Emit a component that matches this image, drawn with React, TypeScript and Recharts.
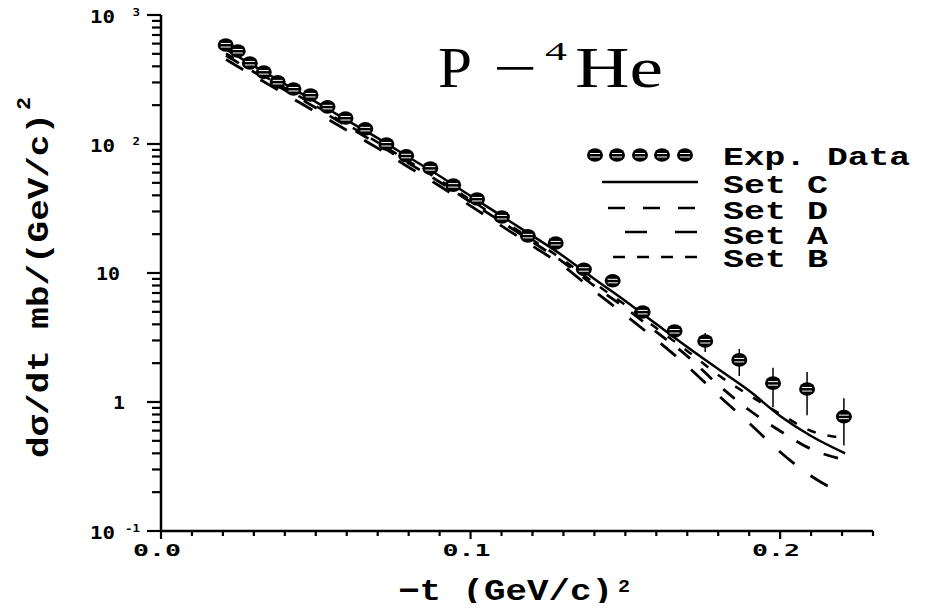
import { ComposedChart, Line, Scatter, ErrorBar, XAxis, YAxis } from "recharts"

// model curves, -t in (GeV/c)^2
const tCurve = [0.021, 0.03, 0.04, 0.05, 0.06, 0.07, 0.08, 0.09, 0.1, 0.11, 0.12, 0.13, 0.14, 0.15, 0.16, 0.17, 0.18, 0.19, 0.2, 0.21, 0.221]
const setC = [540, 403, 292, 212, 153, 111, 79, 56.5, 39.5, 27.7, 19.4, 13.5, 8.98, 6.07, 4.02, 2.67, 1.8, 1.22, 0.78, 0.545, 0.4]
const setD = [485, 362, 262, 191, 138, 99.8, 71, 50.8, 35.5, 24.9, 17.4, 12.1, 7.93, 5.36, 3.49, 2.27, 1.36, 0.867, 0.596, 0.432, 0.355]
const setA = [452, 337, 244, 177, 128, 92.9, 66.1, 47.3, 33.1, 23.2, 16.2, 11.3, 7.25, 4.72, 3.03, 1.9, 1.13, 0.687, 0.41, 0.267, 0.19]
const setB = [503, 375, 272, 197, 142, 103, 73.5, 52.6, 36.8, 25.8, 18.1, 12.6, 8.36, 5.65, 3.74, 2.49, 1.62, 1.13, 0.81, 0.596, 0.526]

// experimental points
const tExp = [0.0209, 0.0248, 0.0287, 0.0332, 0.0377, 0.0428, 0.0483, 0.0538, 0.0596, 0.066, 0.0728, 0.0792, 0.087, 0.0944, 0.1021, 0.1101, 0.1185, 0.1275, 0.1366, 0.1459, 0.1556, 0.1659, 0.1758, 0.1868, 0.1977, 0.2087, 0.2206]
const vExp = [585, 526, 425, 361, 303, 267, 240, 194, 159, 131, 100, 81, 65, 48, 37.5, 27.2, 19.4, 17.1, 10.7, 8.7, 4.99, 3.55, 2.97, 2.12, 1.4, 1.26, 0.77]
const errLo = [0, 0, 0, 0, 0, 0, 0, 0, 0, 0, 0, 0, 0, 0, 0, 0, 0, 0, 0, 0, 0, 0.36, 0.53, 0.53, 0.49, 0.47, 0.31]
const errHi = [0, 0, 0, 0, 0, 0, 0, 0, 0, 0, 0, 0, 0, 0, 0, 0, 0, 0, 0, 0, 0, 0.4, 0.46, 0.46, 0.44, 0.45, 0.3]

const xTicks = [0, 0.01, 0.02, 0.03, 0.04, 0.05, 0.06, 0.07, 0.08, 0.09, 0.1, 0.11, 0.12, 0.13, 0.14, 0.15, 0.16, 0.17, 0.18, 0.19, 0.2, 0.21, 0.22, 0.23]
const xMajor = [0, 0.1, 0.2]
const yTicks = [
  0.1, 0.2, 0.3, 0.4, 0.5, 0.6, 0.7, 0.8, 0.9,
  1, 2, 3, 4, 5, 6, 7, 8, 9,
  10, 20, 30, 40, 50, 60, 70, 80, 90,
  100, 200, 300, 400, 500, 600, 700, 800, 900,
  1000,
]
const yMajor = [0.1, 1, 10, 100, 1000]
const yBase = ["10", "1", "10", "10", "10"]
const yExp = ["-1", "", "", "2", "3"]

const curveData = tCurve.map((t, i) => ({ t, C: setC[i], D: setD[i], A: setA[i], B: setB[i] }))
const expData = tExp.map((t, i) => ({ t, v: vExp[i], err: [errLo[i], errHi[i]] }))

const mono = "'DejaVu Sans Mono', monospace"
const courier = "'Liberation Mono', monospace"

function Marker({ cx, cy }: { cx: number; cy: number }) {
  return (
    <g>
      <ellipse cx={cx} cy={cy} rx={8} ry={6.8} fill="#000" />
      <line x1={cx - 5} x2={cx + 5} y1={cy - 1.5} y2={cy - 1.5} stroke="#fff" strokeWidth={1} />
      <line x1={cx - 5} x2={cx + 5} y1={cy + 2} y2={cy + 2} stroke="#fff" strokeWidth={1} />
    </g>
  )
}

function XTick(props: any) {
  const { x, y, payload } = props
  const v = payload.value
  const major = xMajor.some((m) => Math.abs(m - v) < 1e-6)
  return (
    <g>
      <line x1={x} x2={x} y1={y} y2={y + (major ? 8 : 5)} stroke="#000" strokeWidth={2.2} />
      {major && (
        <text x={x - 4} y={y + 25} textAnchor="middle" fontFamily={mono} fontWeight="bold" fontSize={16} textLength={48} lengthAdjust="spacingAndGlyphs" fill="#000">
          {v.toFixed(1)}
        </text>
      )}
    </g>
  )
}

function YTick(props: any) {
  const { x, y, payload } = props
  const v = payload.value
  const idx = yMajor.findIndex((m) => Math.abs(m - v) < m * 1e-6)
  const major = idx >= 0
  let label = null
  if (major) {
    const base = yBase[idx]
    const sup = yExp[idx]
    if (sup) {
      label = (
        <g fontFamily={mono} fontWeight="bold" fill="#000">
          <text x={x - 46} y={y + 8} textAnchor="end" fontSize={17} textLength={25} lengthAdjust="spacingAndGlyphs">{base}</text>
          <text x={x - 21} y={y + 1} textAnchor="end" fontSize={11} textLength={sup.length * 7.5} lengthAdjust="spacingAndGlyphs">{sup}</text>
        </g>
      )
    } else {
      label = (
        <text x={base === "1" ? x - 36 : x - 41} y={y + 7} textAnchor="end" fontFamily={mono} fontWeight="bold" fontSize={17} textLength={base.length * 12} lengthAdjust="spacingAndGlyphs" fill="#000">
          {base}
        </text>
      )
    }
  }
  return (
    <g>
      <line x1={x} x2={x - (major ? 14 : 9)} y1={y} y2={y} stroke="#000" strokeWidth={2.2} />
      {label}
    </g>
  )
}

const legendRows = [
  { name: "Set C", dash: "", x1: 22, y: 47, ty: 58 },
  { name: "Set D", dash: "17 18", x1: 28, y: 73, ty: 84 },
  { name: "Set A", dash: "22 28", x1: 45, y: 97, ty: 109 },
  { name: "Set B", dash: "12 12", x1: 33, y: 122, ty: 132 },
]

function LegendBox() {
  return (
    <g transform="translate(572, 127)">
      {[15, 37, 60, 82, 105].map((cx) => (
        <Marker key={cx} cx={cx} cy={20} />
      ))}
      <text x={143} y={30} fontFamily={courier} fontWeight="bold" fontSize={26} textLength={187} lengthAdjust="spacingAndGlyphs">Exp. Data</text>
      {legendRows.map((r) => (
        <g key={r.name}>
          <line x1={r.x1} x2={118} y1={r.y} y2={r.y} stroke="#000" strokeWidth={2.6} strokeDasharray={r.dash || undefined} />
          <text x={143} y={r.ty} fontFamily={courier} fontWeight="bold" fontSize={26} textLength={105} lengthAdjust="spacingAndGlyphs">{r.name}</text>
        </g>
      ))}
    </g>
  )
}

export default function App() {
  return (
    <div style={{ position: "relative", width: 914, height: 595 }}>
      <ComposedChart width={914} height={595} data={curveData} margin={{ top: 7, right: 49, left: 0, bottom: 0 }}>
        <XAxis
          type="number"
          dataKey="t"
          domain={[0, 0.23]}
          allowDataOverflow
          ticks={xTicks}
          interval={0}
          tick={XTick}
          tickLine={false}
          tickSize={0}
          tickMargin={0}
          height={72}
          axisLine={{ stroke: "#000", strokeWidth: 2.5 }}
        />
        <YAxis
          scale="log"
          domain={[0.1, 1000]}
          allowDataOverflow
          ticks={yTicks}
          interval={0}
          tick={YTick}
          tickLine={false}
          tickSize={0}
          tickMargin={0}
          width={153}
          axisLine={{ stroke: "#000", strokeWidth: 2.5 }}
        />
        <Line type="monotone" dataKey="A" stroke="#000" strokeWidth={2.8} strokeDasharray="20 20" dot={false} isAnimationActive={false} />
        <Line type="monotone" dataKey="D" stroke="#000" strokeWidth={2.8} strokeDasharray="15 15" dot={false} isAnimationActive={false} />
        <Line type="monotone" dataKey="B" stroke="#000" strokeWidth={2.5} strokeDasharray="9 12" dot={false} isAnimationActive={false} />
        <Line type="monotone" dataKey="C" stroke="#000" strokeWidth={2.5} dot={false} isAnimationActive={false} />
        <Scatter data={expData} dataKey="v" shape={(p: any) => <Marker cx={p.cx} cy={p.cy} />} isAnimationActive={false}>
          <ErrorBar dataKey="err" direction="y" width={0} stroke="#000" strokeWidth={1.5} />
        </Scatter>
      </ComposedChart>
      <svg width={914} height={603} style={{ position: "absolute", left: 0, top: 0, pointerEvents: "none", overflow: "visible" }}>
        <LegendBox />
        <g fontFamily="'Liberation Serif', serif" fill="#000">
          <text x={430} y={79} fontSize={56} textLength={34} lengthAdjust="spacingAndGlyphs">P</text>
          <text x={485} y={79} fontSize={56} textLength={44} lengthAdjust="spacingAndGlyphs">−</text>
          <text x={537} y={52} fontSize={26} textLength={22} lengthAdjust="spacingAndGlyphs">4</text>
          <text x={567} y={79} fontSize={56} textLength={88} lengthAdjust="spacingAndGlyphs">He</text>
        </g>
        <g fontFamily={courier} fontWeight="bold" fill="#000">
          <text x={390} y={592} fontSize={30} textLength={215} lengthAdjust="spacingAndGlyphs">−t (GeV/c)</text>
          <text x={610} y={584} fontSize={18} textLength={12} lengthAdjust="spacingAndGlyphs">2</text>
          <g transform="translate(40, 450) rotate(-90)">
            <text x={0} y={0} fontSize={30} textLength={345} lengthAdjust="spacingAndGlyphs">dσ/dt  mb/(GeV/c)</text>
            <text x={348} y={-18} fontSize={20} textLength={13} lengthAdjust="spacingAndGlyphs">2</text>
          </g>
        </g>
      </svg>
    </div>
  )
}
